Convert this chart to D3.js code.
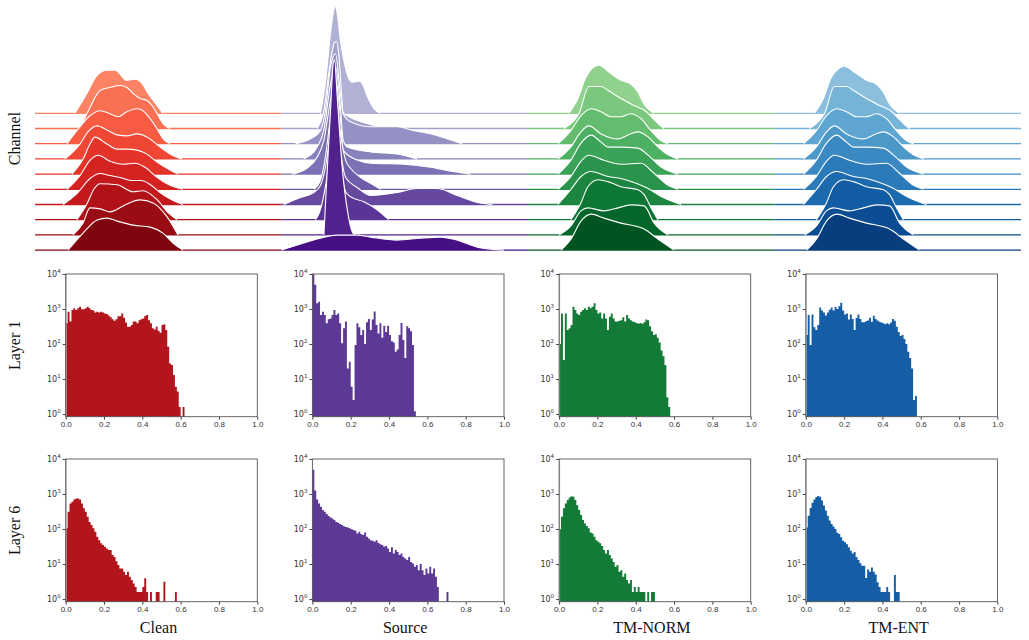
<!DOCTYPE html>
<html>
<head>
<meta charset="utf-8">
<script src="https://cdn.jsdelivr.net/npm/d3@7"></script>
<style>
  body { margin: 0; background: #fff; }
</style>
</head>
<body>
<div id="chart"></div>
<script>
// Column and row names
const methods = ["Clean", "Source", "TM-NORM", "TM-ENT"];
const layers = ["Layer 1", "Layer 6"];
const xTicks = [0, 0.2, 0.4, 0.6, 0.8, 1.0];
const yTickExps = [0, 1, 2, 3, 4];
const binWidth = 0.01;

// Channel ridgelines: [x, density] points, rows from top to bottom
const cleanRidges = [
  [[.162,0],[.211,.20],[.252,.38],[.292,.43],[.325,.43],[.373,.33],[.406,.34],[.434,.30],[.458,.20],[.495,.08],[.519,0]],
  [[.183,0],[.223,.21],[.264,.38],[.304,.41],[.345,.43],[.373,.41],[.398,.35],[.426,.30],[.454,.28],[.475,.23],[.495,.15],[.519,.05],[.548,0]],
  [[.130,0],[.183,.17],[.223,.28],[.264,.33],[.304,.30],[.337,.27],[.373,.32],[.414,.35],[.438,.33],[.467,.25],[.495,.15],[.519,.05],[.548,0]],
  [[.122,0],[.183,.15],[.215,.27],[.252,.33],[.292,.29],[.333,.24],[.373,.23],[.414,.25],[.454,.22],[.507,.12],[.548,.05],[.596,0]],
  [[.150,0],[.195,.15],[.223,.30],[.243,.37],[.292,.30],[.333,.25],[.373,.25],[.414,.24],[.454,.20],[.495,.12],[.548,.04],[.580,0]],
  [[.130,0],[.183,.14],[.223,.29],[.256,.34],[.304,.28],[.357,.25],[.406,.26],[.446,.22],[.495,.12],[.548,.04],[.600,0]],
  [[.114,0],[.174,.12],[.223,.26],[.264,.31],[.304,.29],[.345,.27],[.390,.24],[.430,.24],[.467,.20],[.507,.12],[.560,.04],[.600,0]],
  [[.170,0],[.211,.16],[.240,.31],[.264,.36],[.333,.35],[.398,.28],[.438,.29],[.495,.20],[.540,.07],[.576,0]],
  [[.154,0],[.195,.12],[.223,.27],[.264,.26],[.304,.23],[.365,.30],[.426,.35],[.479,.32],[.536,.18],[.580,0]],
  [[.134,0],[.195,.17],[.252,.30],[.292,.32],[.333,.29],[.398,.25],[.467,.23],[.519,.17],[.560,.07],[.600,0]]
];
const sourceRidges = [
  [[.158,0],[.178,.30],[.199,.80],[.212,1.03],[.219,1.07],[.226,1.00],[.239,.73],[.253,.53],[.269,.37],[.287,.31],[.314,.32],[.327,.30],[.348,.17],[.374,.05],[.402,0]],
  [[.145,0],[.172,.18],[.199,.68],[.215,.86],[.223,.87],[.232,.75],[.242,.41],[.250,.16],[.280,.11],[.320,.07],[.361,.04],[.415,0]],
  [[.057,0],[.118,.05],[.158,.13],[.178,.33],[.199,.77],[.219,.90],[.239,.50],[.250,.30],[.280,.22],[.361,.17],[.469,.17],[.537,.13],[.604,.10],[.672,.05],[.733,0]],
  [[.090,0],[.145,.12],[.172,.29],[.199,.75],[.219,.92],[.239,.52],[.250,.19],[.267,.12],[.361,.07],[.469,.05],[.550,0]],
  [[.043,0],[.104,.06],[.145,.17],[.172,.34],[.199,.74],[.219,.94],[.239,.57],[.250,.24],[.307,.14],[.361,.11],[.496,.10],[.604,.07],[.686,.03],[.767,0]],
  [[.131,0],[.158,.09],[.178,.32],[.199,.72],[.219,.96],[.239,.56],[.260,.29],[.280,.21],[.320,.12],[.361,.06],[.402,0]],
  [[.009,0],[.077,.07],[.131,.12],[.158,.19],[.178,.37],[.199,.71],[.219,.94],[.239,.54],[.260,.27],[.307,.17],[.361,.09],[.469,.12],[.550,.16],[.632,.16],[.713,.09],[.794,.02],[.855,0]],
  [[.138,0],[.158,.10],[.178,.33],[.199,.70],[.219,.93],[.239,.53],[.260,.28],[.280,.23],[.334,.18],[.388,.10],[.435,0]],
  [[.172,0],[.185,.62],[.199,1.25],[.210,1.72],[.215,1.75],[.226,1.38],[.246,.68],[.269,.22],[.287,.03],[.296,0]],
  [[.000,0],[.090,.07],[.158,.12],[.226,.15],[.307,.15],[.361,.13],[.469,.10],[.564,.12],[.645,.13],[.713,.10],[.794,.03],[.902,0]]
];
const normRidges = [
  [[.166,0],[.203,.15],[.235,.36],[.288,.48],[.329,.41],[.377,.33],[.418,.29],[.446,.21],[.471,.09],[.511,0]],
  [[.146,0],[.187,.08],[.207,.15],[.247,.42],[.296,.42],[.325,.38],[.377,.30],[.430,.23],[.479,.17],[.507,.10],[.527,.05],[.552,0]],
  [[.122,0],[.174,.13],[.215,.28],[.256,.35],[.296,.32],[.337,.27],[.377,.27],[.418,.30],[.458,.25],[.499,.13],[.540,.03],[.568,0]],
  [[.122,0],[.174,.12],[.215,.27],[.247,.33],[.296,.25],[.365,.20],[.406,.24],[.446,.27],[.487,.22],[.527,.12],[.568,.04],[.609,0]],
  [[.122,0],[.174,.14],[.215,.31],[.256,.39],[.296,.32],[.325,.27],[.377,.27],[.446,.26],[.487,.19],[.540,.07],[.609,0]],
  [[.122,0],[.174,.13],[.215,.28],[.247,.34],[.308,.29],[.377,.25],[.458,.26],[.511,.16],[.568,.04],[.609,0]],
  [[.122,0],[.174,.15],[.215,.28],[.256,.33],[.325,.28],[.377,.26],[.418,.23],[.487,.16],[.540,.08],[.621,0]],
  [[.174,0],[.215,.17],[.243,.33],[.284,.40],[.337,.37],[.377,.33],[.446,.30],[.471,.25],[.499,.12],[.527,0]],
  [[.126,0],[.174,.09],[.215,.24],[.243,.27],[.308,.24],[.365,.27],[.418,.30],[.471,.29],[.511,.12],[.568,0]],
  [[.134,0],[.174,.11],[.215,.29],[.256,.36],[.308,.32],[.377,.27],[.471,.21],[.527,.11],[.592,0]]
];
const entRidges = [
  [[.162,0],[.199,.15],[.231,.36],[.284,.47],[.325,.41],[.373,.33],[.414,.29],[.442,.21],[.467,.09],[.507,0]],
  [[.142,0],[.183,.08],[.203,.15],[.243,.42],[.292,.42],[.321,.38],[.373,.30],[.426,.23],[.475,.17],[.503,.10],[.523,.05],[.548,0]],
  [[.118,0],[.170,.13],[.211,.28],[.252,.35],[.292,.32],[.333,.27],[.373,.27],[.414,.30],[.454,.25],[.495,.13],[.536,.03],[.564,0]],
  [[.118,0],[.170,.12],[.211,.27],[.243,.33],[.292,.25],[.361,.20],[.402,.24],[.442,.27],[.483,.22],[.523,.12],[.564,.04],[.605,0]],
  [[.118,0],[.170,.14],[.211,.31],[.252,.39],[.292,.32],[.321,.27],[.373,.27],[.442,.26],[.483,.19],[.536,.07],[.605,0]],
  [[.118,0],[.170,.13],[.211,.28],[.243,.34],[.304,.29],[.373,.25],[.454,.26],[.507,.16],[.564,.04],[.605,0]],
  [[.118,0],[.170,.15],[.211,.28],[.252,.33],[.321,.28],[.373,.26],[.414,.23],[.483,.16],[.536,.08],[.617,0]],
  [[.170,0],[.211,.17],[.239,.33],[.280,.40],[.333,.37],[.373,.33],[.442,.30],[.467,.25],[.495,.12],[.523,0]],
  [[.122,0],[.170,.09],[.211,.24],[.239,.27],[.304,.24],[.361,.27],[.414,.30],[.467,.29],[.507,.12],[.564,0]],
  [[.130,0],[.170,.11],[.211,.29],[.252,.36],[.304,.32],[.373,.27],[.467,.21],[.523,.11],[.588,0]]
];

// Histogram counts, one value per 0.01 bin starting at 0
const cleanL1 = [390, 830, 440, 940, 1050, 940, 1050, 1170, 990, 990,
  1050, 1170, 1050, 940, 900, 790, 830, 790, 830, 790,
  750, 720, 650, 580, 510, 460, 510, 620, 620, 750,
  560, 410, 310, 310, 350, 440, 440, 390, 480, 510,
  540, 630, 670, 480, 390, 280, 260, 310, 240, 210,
  350, 370, 250, 84, 28, 25, 13, 6, 4.4, 1.6, 0, 1.6];
const sourceL1 = [10000, 4900, 1450, 1600, 670, 840, 670, 390, 510, 540,
  670, 940, 670, 750, 390, 105, 280, 440, 20, 31,
  6, 2.5, 94, 390, 300, 180, 250, 100, 420, 520,
  250, 500, 850, 350, 200, 390, 150, 330, 220, 330,
  180, 120, 110, 60, 70, 180, 400, 130, 40, 320,
  280, 230, 94, 1.2];
const normL1 = [100, 750, 35, 750, 250, 280, 350, 1170, 940, 750,
  670, 840, 940, 1050, 940, 1170, 1050, 1170, 1450, 940,
  750, 800, 540, 750, 540, 250, 600, 750, 540, 440,
  440, 460, 480, 580, 440, 670, 540, 480, 440, 420,
  400, 380, 400, 380, 420, 500, 480, 320, 230, 180,
  190, 150, 110, 65, 45, 25, 3, 1.6];
const entL1 = [180, 670, 94, 700, 300, 250, 350, 1100, 900, 800,
  650, 800, 950, 1100, 900, 1150, 1000, 1200, 1500, 900,
  700, 750, 500, 700, 520, 250, 550, 700, 520, 420,
  420, 450, 470, 560, 430, 640, 520, 470, 430, 410,
  390, 370, 390, 370, 410, 520, 460, 310, 220, 170,
  180, 140, 100, 60, 40, 20, 2.5, 3.3];
const cleanL6 = [105, 310, 540, 600, 700, 750, 750, 700, 540, 390,
  310, 225, 160, 130, 105, 84, 60, 48, 39, 35,
  31, 28, 25, 25, 18, 16, 12, 9.4, 7.5, 7.5,
  6, 4.9, 6, 4.3, 3.5, 2.8, 2.2, 1.6, 1.6, 1.6,
  2.2, 3.9, 1.6, 0, 1.6, 0, 0, 1.6, 1.6, 0,
  0, 3.1, 0, 0, 0, 0, 0, 1.6];
const sourceL6 = [4900, 1250, 700, 540, 435, 350, 310, 270, 235, 215,
  200, 180, 160, 150, 140, 130, 120, 115, 110, 105,
  98, 94, 90, 75, 84, 72, 67, 80, 60, 54,
  48, 46, 43, 48, 40, 37, 35, 31, 33, 28,
  22, 30, 20, 25, 22, 18, 20, 16, 14.5, 13,
  16, 11.5, 10.4, 8.4, 9.4, 6.7, 10, 6.7, 4.9, 7.5,
  5.4, 8.4, 5.4, 7.5, 4.3, 2.2, 0, 0, 0, 0, 1.6];
const normL6 = [98, 225, 390, 540, 670, 800, 870, 840, 670, 480,
  350, 250, 180, 145, 122, 105, 79, 75, 60, 48,
  43, 39, 33, 25, 20, 25, 18, 14.5, 11.5, 8.4,
  9.4, 6, 6.7, 4.3, 5.4, 3.5, 2.8, 3.5, 1.6, 2.2,
  1.6, 2.2, 1.6, 1.6, 1.6, 0, 1.6, 0, 1.6, 1.6];
const entL6 = [110, 240, 400, 560, 700, 820, 880, 830, 650, 470,
  340, 240, 175, 140, 118, 100, 78, 72, 58, 46,
  42, 37, 30, 24, 20, 22, 16, 13, 10.5, 9,
  9, 4, 7, 6, 8, 6, 5, 3, 2.2, 1.6,
  1.6, 1.6, 2.2, 1.6, 0, 0, 4.9, 1.6, 1.6];
// count of exact zeros (drawn as the thin grey bar at x = 0)
const zeroCountsL1 = [20000, 0, 20000, 20000];
const zeroCountsL6 = [20000, 0, 20000, 20000];

// Layout
const dims = { width: 1029, height: 640 };
const ridge = { left: 35, step: 246.5, top: 113.3, gap: 15.2, unit: 100 };
const hist = { left: 65.7, step: 246.7, width: 191.6, height: 142.7, tops: [274, 459] };

const ridgeSets = [cleanRidges, sourceRidges, normRidges, entRidges];
const ridgeColors = [d3.interpolateReds, d3.interpolatePurples, d3.interpolateGreens, d3.interpolateBlues];
const histSets = [[cleanL1, sourceL1, normL1, entL1], [cleanL6, sourceL6, normL6, entL6]];
const zeroSets = [zeroCountsL1, zeroCountsL6];
const histColors = ["#b2151b", "#5c3994", "#147a37", "#155ea5"];

const svg = d3.select('#chart')
  .append('svg')
  .attr('width', dims.width)
  .attr('height', dims.height)
  .style('font-family', 'DejaVu Sans, sans-serif');

// Ridgeline panels
ridgeSets.forEach(function(rows, c) {
  const x0 = ridge.left + c * ridge.step;
  const x = d3.scaleLinear().domain([0, 1]).range([x0, x0 + ridge.step]);
  const g = svg.append('g').attr('class', 'ridges');

  rows.forEach(function(pts, r) {
    const base = ridge.top + r * ridge.gap;
    const y = d3.scaleLinear().domain([0, 1]).range([base, base - ridge.unit]);
    const color = ridgeColors[c](0.42 + r * 0.059);

    const area = d3.area()
      .x(d => x(d[0])).y0(base).y1(d => y(d[1]))
      .curve(d3.curveMonotoneX);
    const line = d3.line()
      .x(d => x(d[0])).y(d => y(d[1]))
      .curve(d3.curveMonotoneX);

    g.append('path').attr('d', area(pts)).attr('fill', color);
    g.append('line')
      .attr('x1', x(0)).attr('x2', x(1))
      .attr('y1', base).attr('y2', base)
      .attr('stroke', color).attr('stroke-width', 1.3);
    g.append('path').attr('d', line(pts))
      .attr('fill', 'none').attr('stroke', '#fff').attr('stroke-width', 1.1);
  });
});

// Histogram panels
layers.forEach(function(layer, li) {
  const top = hist.tops[li];
  const bottom = top + hist.height;

  methods.forEach(function(method, c) {
    const left = hist.left + c * hist.step;
    const x = d3.scaleLinear().domain([0, 1]).range([left, left + hist.width]);
    const y = d3.scaleLog().domain([0.84, 1e4]).range([bottom, top]).clamp(true);
    const g = svg.append('g').attr('class', 'hist');

    const counts = histSets[li][c];
    const bins = counts.map((v, i) => ({ x0: i * binWidth, v: v }));
    bins.push({ x0: counts.length * binWidth, v: 0 });

    // one stepped outline per panel, so neighbouring bins join without seams
    const step = d3.area()
      .x(d => x(d.x0))
      .y0(bottom)
      .y1(d => d.v > 0 ? y(d.v) : bottom)
      .curve(d3.curveStepAfter);

    g.append('path')
      .attr('d', step(bins))
      .attr('fill', histColors[c]);

    const zc = zeroSets[li][c];
    if (zc > 0) {
      g.append('rect')
        .attr('x', x(0)).attr('width', 1)
        .attr('y', y(zc)).attr('height', bottom - y(zc))
        .attr('fill', '#b4b4b4');
    }

    // x axis
    const xAxis = d3.axisBottom(x)
      .tickValues(xTicks)
      .tickFormat(d3.format('.1f'))
      .tickSize(3)
      .tickPadding(2);
    const gx = g.append('g').attr('transform', `translate(0, ${bottom})`).call(xAxis);
    gx.select('.domain').remove();
    gx.selectAll('line').attr('stroke', '#444');
    gx.selectAll('text').attr('font-size', 8).attr('fill', '#333');

    // y axis ticks, labels as 10^k
    const yAxis = d3.axisLeft(y)
      .tickValues(yTickExps.map(k => Math.pow(10, k)))
      .tickFormat('')
      .tickSize(3);
    const gy = g.append('g').attr('transform', `translate(${left}, 0)`).call(yAxis);
    gy.select('.domain').remove();
    gy.selectAll('line').attr('stroke', '#444');

    const labels = g.selectAll('text.ylab')
      .data(yTickExps)
      .enter()
      .append('text')
      .attr('class', 'ylab')
      .attr('x', left - 5)
      .attr('y', k => y(Math.pow(10, k)) + 3)
      .attr('text-anchor', 'end')
      .attr('font-size', 8)
      .attr('fill', '#333');
    labels.append('tspan').text('10');
    labels.append('tspan')
      .attr('font-size', 5.5)
      .attr('dy', -4)
      .text(k => k);

    // frame
    g.append('rect')
      .attr('x', left).attr('y', top)
      .attr('width', hist.width).attr('height', hist.height)
      .attr('fill', 'none').attr('stroke', '#555').attr('stroke-width', 0.9);
  });
});

// Row titles
const rowTitles = [
  { text: 'Channel', cy: 138.5 },
  { text: layers[0], cy: hist.tops[0] + hist.height / 2 },
  { text: layers[1], cy: hist.tops[1] + hist.height / 2 }
];
svg.selectAll('text.rowtitle')
  .data(rowTitles)
  .enter()
  .append('text')
  .attr('class', 'rowtitle')
  .attr('transform', d => `translate(20, ${d.cy}) rotate(-90)`)
  .attr('text-anchor', 'middle')
  .style('font-family', 'Liberation Serif, serif')
  .style('font-size', '16px')
  .attr('fill', '#111')
  .text(d => d.text);

// Column titles
svg.selectAll('text.coltitle')
  .data(methods)
  .enter()
  .append('text')
  .attr('class', 'coltitle')
  .attr('x', (d, i) => hist.left + i * hist.step + hist.width / 2 - 3)
  .attr('y', 633)
  .attr('text-anchor', 'middle')
  .style('font-family', 'Liberation Serif, serif')
  .style('font-size', '16px')
  .attr('fill', '#111')
  .text(d => d);
</script>
</body>
</html>
